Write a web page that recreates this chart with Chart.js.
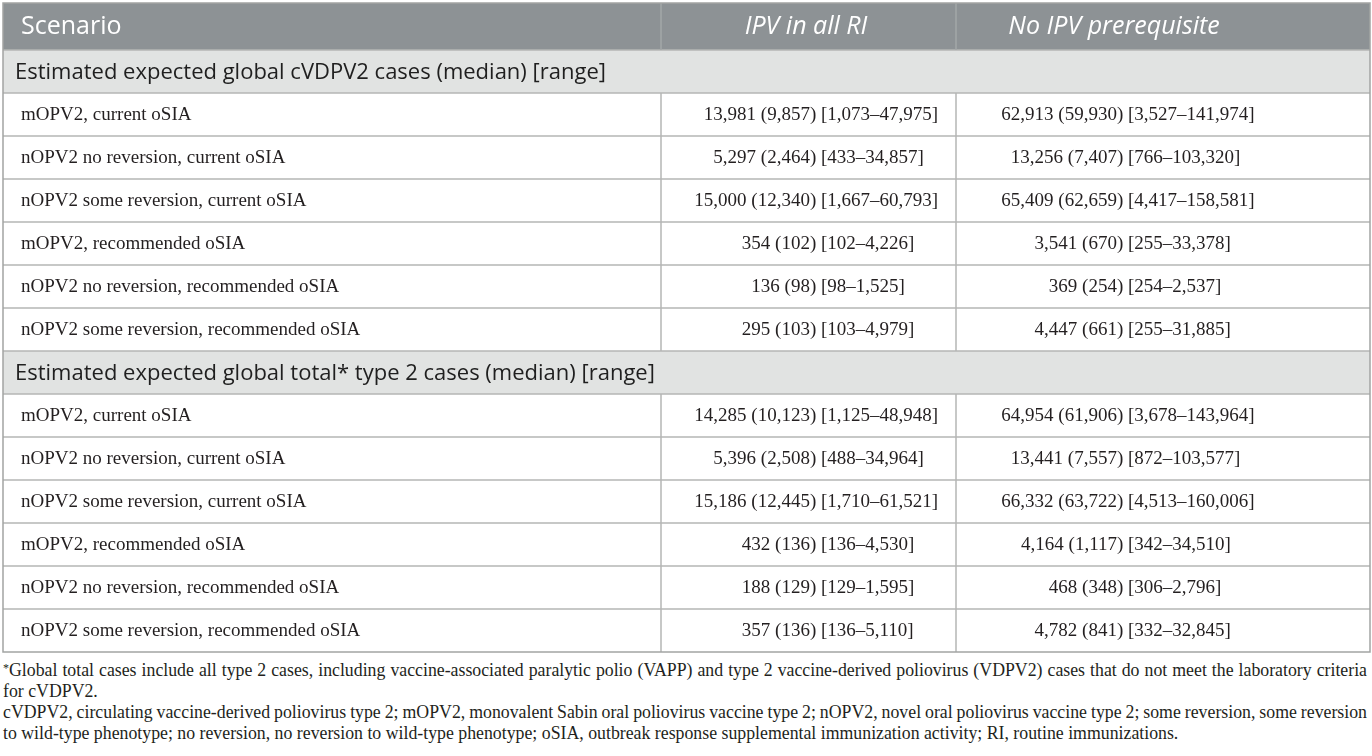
<!DOCTYPE html>
<html>
<head>
<meta charset="utf-8">
<script src="https://cdn.jsdelivr.net/npm/chart.js@4.4.0/dist/chart.umd.min.js"></script>
<style>
    body { margin: 0; background: #fff; }
    #wrap { position: relative; width: 1372px; height: 655px; }
    .notes { margin: 5px 0 0 3px; width: 1364px; font-family: "Liberation Serif", serif; font-size: 17.8px; line-height: 21px; color: #231f20; }
    .notes div { white-space: nowrap; }
    .notes .full { text-align: justify; text-align-last: justify; word-spacing: -2px; }
    .notes sup { font-size: 12px; vertical-align: 4px; line-height: 0; }
</style>
</head>
<body>
<div id="wrap"><canvas id="myTable"></canvas></div>
<div class="notes">
    <div class="full"><sup>*</sup>Global total cases include all type 2 cases, including vaccine-associated paralytic polio (VAPP) and type 2 vaccine-derived poliovirus (VDPV2) cases that do not meet the laboratory criteria</div>
    <div>for cVDPV2.</div>
    <div class="full">cVDPV2, circulating vaccine-derived poliovirus type 2; mOPV2, monovalent Sabin oral poliovirus vaccine type 2; nOPV2, novel oral poliovirus vaccine type 2; some reversion, some reversion</div>
    <div>to wild-type phenotype; no reversion, no reversion to wild-type phenotype; oSIA, outbreak response supplemental immunization activity; RI, routine immunizations.</div>
</div>
<script>
const columnTitles = ["Scenario", "IPV in all RI", "No IPV prerequisite"]

const sectionTitles = [
    "Estimated expected global cVDPV2 cases (median) [range]",
    "Estimated expected global total* type 2 cases (median) [range]",
]

const scenarios = [
    "mOPV2, current oSIA",
    "nOPV2 no reversion, current oSIA",
    "nOPV2 some reversion, current oSIA",
    "mOPV2, recommended oSIA",
    "nOPV2 no reversion, recommended oSIA",
    "nOPV2 some reversion, recommended oSIA",
]

// each entry: [expected, median, range low, range high]
const cvdpv2IpvAll = [
    [13981, 9857, 1073, 47975],
    [5297, 2464, 433, 34857],
    [15000, 12340, 1667, 60793],
    [354, 102, 102, 4226],
    [136, 98, 98, 1525],
    [295, 103, 103, 4979],
]
const cvdpv2NoIpv = [
    [62913, 59930, 3527, 141974],
    [13256, 7407, 766, 103320],
    [65409, 62659, 4417, 158581],
    [3541, 670, 255, 33378],
    [369, 254, 254, 2537],
    [4447, 661, 255, 31885],
]
const totalIpvAll = [
    [14285, 10123, 1125, 48948],
    [5396, 2508, 488, 34964],
    [15186, 12445, 1710, 61521],
    [432, 136, 136, 4530],
    [188, 129, 129, 1595],
    [357, 136, 136, 5110],
]
const totalNoIpv = [
    [64954, 61906, 3678, 143964],
    [13441, 7557, 872, 103577],
    [66332, 63722, 4513, 160006],
    [4164, 1117, 342, 34510],
    [468, 348, 306, 2796],
    [4782, 841, 332, 32845],
]

// build the row list: a section row followed by its scenario rows
const rows = []
const sections = [
    [cvdpv2IpvAll, cvdpv2NoIpv],
    [totalIpvAll, totalNoIpv],
]
sections.forEach(([ipv, noIpv], s) => {
    rows.push({ section: sectionTitles[s] })
    scenarios.forEach((name, i) => {
        rows.push({ name: name, cells: [ipv[i], noIpv[i]], key: s + ":" + name })
    })
})
const rowKeys = rows.map((r) => r.section || r.key)

// layout in table units (x scale runs 0..1367)
const colEdges = [0, 658, 953, 1367]
const headerCenters = [null, 803, 1111]
const bracketAnchors = [null, 818, 1125]

const fmt = (n) => n.toLocaleString("en-US")

const tablePlugin = {
    id: "tablePlugin",
    afterDraw(chart) {
        const c = chart.ctx
        const x = chart.scales.x
        const y = chart.scales.y
        const area = chart.chartArea
        const left = x.getPixelForValue(colEdges[0])
        const right = x.getPixelForValue(colEdges[3])
        const band = (area.bottom - area.top) / rows.length
        const headTop = 3

        c.save()
        // header
        c.fillStyle = "#8d9295"
        c.fillRect(left, headTop, right - left, area.top - headTop)

        // section backgrounds
        rows.forEach((r, i) => {
            if (!r.section) return
            const yc = y.getPixelForValue(i)
            c.fillStyle = "#e1e3e2"
            c.fillRect(left, yc - band / 2, right - left, band)
        })

        // horizontal rules
        c.strokeStyle = "#b4b6b5"
        c.lineWidth = 1.5
        rows.forEach((r, i) => {
            const yt = y.getPixelForValue(i) - band / 2
            c.beginPath()
            c.moveTo(left, yt)
            c.lineTo(right, yt)
            c.stroke()
        })

        // vertical rules: header and data rows only
        ;[1, 2].forEach((k) => {
            const xp = x.getPixelForValue(colEdges[k])
            c.strokeStyle = "#a3a7a9"
            c.beginPath()
            c.moveTo(xp, headTop)
            c.lineTo(xp, area.top)
            c.stroke()
            c.strokeStyle = "#b4b6b5"
            rows.forEach((r, i) => {
                if (r.section) return
                const yc = y.getPixelForValue(i)
                c.beginPath()
                c.moveTo(xp, yc - band / 2)
                c.lineTo(xp, yc + band / 2)
                c.stroke()
            })
        })

        // outer border
        c.strokeStyle = "#a2a4a3"
        c.lineWidth = 1.5
        c.strokeRect(left, headTop, right - left, area.bottom - headTop)

        // header text
        c.textBaseline = "middle"
        c.fillStyle = "#ffffff"
        const headMid = (headTop + area.top) / 2
        c.font = "25px 'Open Sans'"
        c.textAlign = "left"
        c.fillText(columnTitles[0], left + 18, headMid)
        c.font = "italic 25px 'Open Sans'"
        c.textAlign = "center"
        c.fillText(columnTitles[1], x.getPixelForValue(headerCenters[1]), headMid)
        c.fillText(columnTitles[2], x.getPixelForValue(headerCenters[2]), headMid)

        // body text
        rows.forEach((r, i) => {
            const yc = y.getPixelForValue(i) + 1
            if (r.section) {
                c.fillStyle = "#1f1f1f"
                c.font = "22px 'Open Sans'"
                c.textAlign = "left"
                c.fillText(r.section, left + 12, yc)
                return
            }
            c.fillStyle = "#231f20"
            c.font = "19px 'Liberation Serif'"
            c.textAlign = "left"
            c.fillText(r.name, left + 18, yc)
            r.cells.forEach((v, k) => {
                const ax = x.getPixelForValue(bracketAnchors[k + 1])
                c.textAlign = "right"
                c.fillText(fmt(v[0]) + " (" + fmt(v[1]) + ") ", ax, yc)
                c.textAlign = "left"
                c.fillText("[" + fmt(v[2]) + "\u2013" + fmt(v[3]) + "]", ax, yc)
            })
        })
        c.restore()
    },
}

const ctx = document.getElementById("myTable").getContext("2d")

new Chart(ctx, {
    type: "bar",
    data: {
        labels: rowKeys,
        datasets: [],
    },
    options: {
        indexAxis: "y",
        responsive: true,
        maintainAspectRatio: false,
        animation: false,
        events: [],
        layout: {
            padding: { top: 50, left: 3, right: 2, bottom: 3 },
        },
        scales: {
            x: { type: "linear", min: colEdges[0], max: colEdges[3], display: false },
            y: { type: "category", offset: true, display: false },
        },
        plugins: {
            legend: { display: false },
            tooltip: { enabled: false },
        },
    },
    plugins: [tablePlugin],
})
</script>
</body>
</html>
